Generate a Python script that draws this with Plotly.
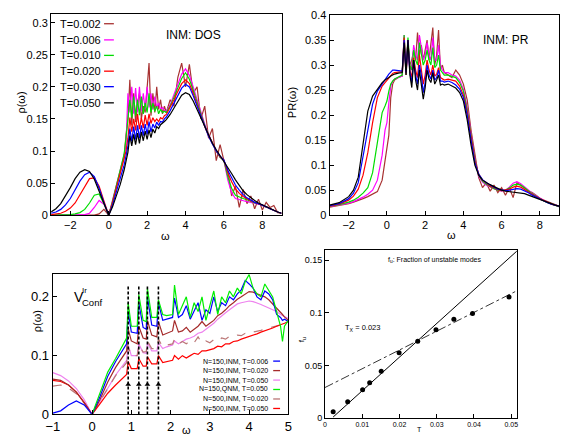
import plotly.graph_objects as go

W, H = 563, 443
FONT = "Liberation Sans, Arial, sans-serif"

# ---------------- Panel 1: INM DOS ----------------
dos_omega = [-3, -2.75, -2.5, -2.25, -2, -1.75, -1.5, -1.25, -1, -0.75, -0.5, -0.25, 0,
             0.2, 0.4, 0.6, 0.8,
             0.9, 1.0, 1.1, 1.2, 1.3, 1.4, 1.5, 1.6, 1.7, 1.8, 1.9, 2.0, 2.1, 2.2, 2.3, 2.4, 2.5, 2.6, 2.7, 2.8, 2.9, 3.0,
             3.2, 3.4, 3.6, 3.8, 4.0, 4.2, 4.4, 4.6, 4.8, 5.0, 5.2, 5.4, 5.6, 5.8, 6.0, 6.2, 6.4, 6.6, 6.8, 7.0,
             7.2, 7.4, 7.6, 7.8, 8.0, 8.2, 8.4, 8.6, 8.8, 9.0]
dos_T002 = [0.0, 0.0, 0.0, 0.0, 0.0, 0.0, 0.0, 0.0, 0.0, 0.0, 0.002, 0.009, 0.0,
            0.020, 0.045, 0.068, 0.090,
            0.125, 0.150, 0.211, 0.140, 0.190, 0.145, 0.175, 0.190, 0.150, 0.170, 0.160, 0.200, 0.237, 0.155, 0.190, 0.160, 0.200, 0.165, 0.180, 0.158, 0.170, 0.160,
            0.180, 0.170, 0.215, 0.237, 0.200, 0.235, 0.190, 0.200, 0.150, 0.170, 0.120, 0.135, 0.085, 0.110, 0.085, 0.070, 0.030, 0.045, 0.012, 0.040,
            0.018, 0.030, 0.010, 0.025, 0.008, 0.020, 0.012, 0.015, 0.004, 0.003]
dos_T006 = [0.0, 0.0, 0.0, 0.0, 0.0, 0.0, 0.0, 0.001, 0.003, 0.012, 0.023, 0.017, 0.0,
            0.022, 0.045, 0.070, 0.093,
            0.110, 0.190, 0.160, 0.200, 0.158, 0.198, 0.160, 0.200, 0.162, 0.190, 0.165, 0.200, 0.168, 0.190, 0.165, 0.185, 0.168, 0.175, 0.165, 0.168, 0.163, 0.162,
            0.172, 0.188, 0.205, 0.220, 0.228, 0.218, 0.200, 0.180, 0.160, 0.142, 0.126, 0.112, 0.100, 0.090, 0.085, 0.055, 0.035, 0.026, 0.024, 0.022,
            0.021, 0.020, 0.019, 0.018, 0.016, 0.013, 0.010, 0.007, 0.005, 0.003]
dos_T010 = [0.0, 0.0, 0.0, 0.001, 0.001, 0.002, 0.004, 0.009, 0.019, 0.031, 0.033, 0.018, 0.0,
            0.022, 0.046, 0.070, 0.095,
            0.120, 0.150, 0.180, 0.152, 0.185, 0.155, 0.180, 0.156, 0.185, 0.158, 0.175, 0.160, 0.190, 0.160, 0.175, 0.162, 0.170, 0.158, 0.165, 0.160, 0.162, 0.160,
            0.170, 0.184, 0.200, 0.213, 0.222, 0.212, 0.195, 0.176, 0.157, 0.140, 0.125, 0.112, 0.100, 0.090, 0.085, 0.060, 0.042, 0.031, 0.028, 0.026,
            0.024, 0.021, 0.019, 0.018, 0.016, 0.013, 0.010, 0.007, 0.005, 0.003]
dos_T020 = [0.001, 0.002, 0.003, 0.006, 0.011, 0.019, 0.032, 0.046, 0.057, 0.058, 0.045, 0.022, 0.0,
            0.020, 0.042, 0.064, 0.085,
            0.100, 0.120, 0.152, 0.130, 0.150, 0.132, 0.158, 0.134, 0.152, 0.136, 0.156, 0.140, 0.158, 0.143, 0.152, 0.146, 0.150, 0.146, 0.152, 0.150, 0.155, 0.157,
            0.168, 0.180, 0.193, 0.205, 0.211, 0.205, 0.190, 0.172, 0.154, 0.138, 0.124, 0.111, 0.100, 0.091, 0.086, 0.066, 0.052, 0.041, 0.034, 0.029,
            0.025, 0.022, 0.020, 0.018, 0.016, 0.013, 0.010, 0.007, 0.005, 0.003]
dos_T030 = [0.003, 0.005, 0.009, 0.016, 0.026, 0.039, 0.053, 0.063, 0.067, 0.060, 0.042, 0.020, 0.0,
            0.016, 0.036, 0.056, 0.078,
            0.092, 0.108, 0.135, 0.115, 0.138, 0.118, 0.140, 0.120, 0.140, 0.124, 0.142, 0.126, 0.146, 0.130, 0.142, 0.136, 0.145, 0.140, 0.146, 0.145, 0.150, 0.153,
            0.163, 0.175, 0.188, 0.198, 0.204, 0.200, 0.186, 0.170, 0.153, 0.137, 0.123, 0.111, 0.100, 0.092, 0.086, 0.070, 0.058, 0.047, 0.039, 0.032,
            0.027, 0.023, 0.020, 0.018, 0.016, 0.013, 0.010, 0.007, 0.005, 0.003]
dos_T050 = [0.005, 0.010, 0.018, 0.030, 0.043, 0.057, 0.067, 0.071, 0.068, 0.056, 0.038, 0.018, 0.0,
            0.013, 0.030, 0.048, 0.070,
            0.085, 0.098, 0.124, 0.108, 0.126, 0.110, 0.128, 0.112, 0.130, 0.116, 0.131, 0.118, 0.133, 0.121, 0.134, 0.128, 0.138, 0.135, 0.141, 0.143, 0.146, 0.149,
            0.157, 0.167, 0.178, 0.187, 0.191, 0.188, 0.178, 0.165, 0.151, 0.137, 0.124, 0.112, 0.102, 0.093, 0.085, 0.075, 0.065, 0.055, 0.046, 0.038,
            0.032, 0.027, 0.023, 0.019, 0.016, 0.013, 0.011, 0.008, 0.005, 0.003]

# ---------------- Panel 2: INM PR ----------------
pr_omega = [-3, -2.5, -2, -1.75, -1.5, -1.25, -1, -0.75, -0.5, -0.25, -0.1, 0, 0.1, 0.2, 0.3, 0.4, 0.6, 0.8,
            0.9, 1.0, 1.1, 1.2, 1.3, 1.4, 1.5, 1.6, 1.7, 1.8, 1.9, 2.0, 2.1, 2.2, 2.3, 2.4, 2.5, 2.6, 2.7, 2.8, 2.9, 3.0,
            3.2, 3.4, 3.6, 3.8, 4.0, 4.2, 4.4, 4.6, 4.8, 5.0, 5.2, 5.4, 5.6, 5.8, 6.0, 6.2, 6.4, 6.6, 6.8, 7.0,
            7.2, 7.4, 7.6, 7.8, 8.0, 8.2, 8.4, 8.6, 8.8, 9.0]
pr_T002 = [0.016, 0.019, 0.023, 0.026, 0.029, 0.033, 0.037, 0.042, 0.047, 0.070, 0.110, 0.135, 0.160, 0.235, 0.262, 0.270, 0.275, 0.278,
           0.340, 0.280, 0.330, 0.300, 0.310, 0.330, 0.310, 0.365, 0.320, 0.340, 0.310, 0.330, 0.350, 0.310, 0.340, 0.375, 0.300, 0.320, 0.370, 0.290, 0.300, 0.285,
           0.280, 0.275, 0.290, 0.280, 0.262, 0.230, 0.170, 0.120, 0.075, 0.055, 0.065, 0.048, 0.060, 0.045, 0.055, 0.040, 0.055, 0.035, 0.065, 0.060,
           0.055, 0.048, 0.045, 0.040, 0.034, 0.030, 0.027, 0.024, 0.020, 0.018]
pr_T006 = [0.017, 0.020, 0.024, 0.027, 0.031, 0.036, 0.042, 0.050, 0.070, 0.120, 0.170, 0.185, 0.225, 0.258, 0.268, 0.272, 0.275, 0.278,
           0.360, 0.285, 0.340, 0.290, 0.300, 0.340, 0.320, 0.310, 0.360, 0.330, 0.310, 0.320, 0.345, 0.320, 0.310, 0.355, 0.310, 0.310, 0.340, 0.300, 0.290, 0.285,
           0.285, 0.280, 0.278, 0.270, 0.252, 0.215, 0.165, 0.112, 0.078, 0.066, 0.060, 0.056, 0.053, 0.050, 0.048, 0.050, 0.056, 0.064, 0.067, 0.063,
           0.056, 0.050, 0.044, 0.039, 0.034, 0.030, 0.026, 0.022, 0.020, 0.017]
pr_T010 = [0.018, 0.021, 0.026, 0.030, 0.036, 0.044, 0.055, 0.085, 0.145, 0.205, 0.218, 0.228, 0.248, 0.262, 0.268, 0.272, 0.276, 0.280,
           0.360, 0.290, 0.355, 0.300, 0.290, 0.330, 0.310, 0.300, 0.345, 0.320, 0.300, 0.310, 0.330, 0.310, 0.300, 0.335, 0.295, 0.300, 0.320, 0.290, 0.285, 0.280,
           0.280, 0.278, 0.275, 0.265, 0.248, 0.210, 0.160, 0.110, 0.080, 0.068, 0.062, 0.057, 0.053, 0.050, 0.049, 0.050, 0.054, 0.060, 0.062, 0.060,
           0.054, 0.048, 0.043, 0.038, 0.033, 0.029, 0.025, 0.022, 0.020, 0.017]
pr_T020 = [0.018, 0.022, 0.030, 0.038, 0.052, 0.080, 0.125, 0.185, 0.235, 0.258, 0.265, 0.270, 0.275, 0.280, 0.283, 0.285, 0.286, 0.287,
           0.355, 0.290, 0.350, 0.290, 0.275, 0.315, 0.290, 0.275, 0.320, 0.295, 0.262, 0.280, 0.310, 0.290, 0.280, 0.300, 0.278, 0.282, 0.295, 0.275, 0.272, 0.270,
           0.272, 0.270, 0.268, 0.258, 0.240, 0.205, 0.155, 0.108, 0.082, 0.070, 0.064, 0.058, 0.055, 0.051, 0.049, 0.050, 0.052, 0.056, 0.058, 0.056,
           0.051, 0.046, 0.041, 0.037, 0.033, 0.029, 0.025, 0.022, 0.020, 0.018]
pr_T030 = [0.019, 0.023, 0.033, 0.044, 0.065, 0.115, 0.170, 0.222, 0.248, 0.262, 0.272, 0.278, 0.282, 0.286, 0.290, 0.290, 0.289, 0.288,
           0.350, 0.285, 0.350, 0.285, 0.265, 0.310, 0.280, 0.262, 0.300, 0.280, 0.245, 0.265, 0.300, 0.280, 0.272, 0.290, 0.270, 0.275, 0.290, 0.268, 0.268, 0.266,
           0.268, 0.265, 0.260, 0.252, 0.235, 0.200, 0.150, 0.105, 0.082, 0.071, 0.065, 0.060, 0.056, 0.052, 0.050, 0.049, 0.050, 0.052, 0.053, 0.052,
           0.049, 0.045, 0.040, 0.036, 0.032, 0.028, 0.025, 0.022, 0.020, 0.018]
pr_T050 = [0.020, 0.025, 0.037, 0.050, 0.076, 0.140, 0.208, 0.238, 0.252, 0.265, 0.270, 0.272, 0.275, 0.278, 0.280, 0.282, 0.284, 0.285,
           0.345, 0.280, 0.350, 0.280, 0.255, 0.310, 0.270, 0.250, 0.290, 0.265, 0.232, 0.255, 0.290, 0.272, 0.265, 0.285, 0.262, 0.270, 0.280, 0.260, 0.262, 0.260,
           0.262, 0.258, 0.254, 0.245, 0.228, 0.190, 0.140, 0.100, 0.080, 0.070, 0.065, 0.061, 0.057, 0.053, 0.050, 0.048, 0.047, 0.046, 0.046, 0.045,
           0.043, 0.040, 0.037, 0.034, 0.031, 0.028, 0.025, 0.022, 0.020, 0.018]

dos_labels = ["T=0.002", "T=0.006", "T=0.010", "T=0.020", "T=0.030", "T=0.050"]
dos_colors = ["#a83232", "#ff00ff", "#00dd00", "#ff0000", "#0000ff", "#000000"]

# ---------------- Panel 3: V_Conf^Ir DOS ----------------
vc_omega = [-1, -0.8, -0.6, -0.4, -0.2, 0,
            0.2, 0.4, 0.6, 0.88, 0.92, 1.0, 1.15, 1.19, 1.3, 1.38, 1.41, 1.52, 1.65, 1.69, 1.8, 1.9, 2.05, 2.1,
            2.2, 2.3, 2.4, 2.5, 2.6, 2.7, 2.8, 2.9, 3.0, 3.1, 3.2, 3.3, 3.4, 3.5, 3.6, 3.7, 3.8, 3.9, 4.0, 4.1,
            4.2, 4.3, 4.4, 4.5, 4.6, 4.7, 4.8, 4.85, 4.9, 5.0]
vc_150_inm_006 = [0.002, 0.006, 0.016, 0.023, 0.016, 0.0,
                  0.030, 0.065, 0.090, 0.120, 0.175, 0.140, 0.138, 0.190, 0.148, 0.145, 0.200, 0.152, 0.150, 0.190, 0.160, 0.162, 0.165, 0.198,
                  0.165, 0.170, 0.185, 0.162, 0.175, 0.190, 0.160, 0.178, 0.172, 0.200, 0.175, 0.190, 0.185, 0.200, 0.195, 0.205, 0.212, 0.228, 0.222, 0.215,
                  0.200, 0.195, 0.210, 0.205, 0.195, 0.170, 0.165, 0.160, 0.162, 0.158]
vc_150_inm_020 = [0.060, 0.058, 0.050, 0.038, 0.020, 0.0,
                  0.025, 0.055, 0.080, 0.108, 0.145, 0.125, 0.120, 0.150, 0.130, 0.128, 0.160, 0.135, 0.132, 0.158, 0.135, 0.138, 0.142, 0.160,
                  0.140, 0.142, 0.148, 0.140, 0.145, 0.150, 0.158, 0.150, 0.155, 0.160, 0.168, 0.172, 0.178, 0.185, 0.190, 0.196, 0.200, 0.205, 0.209, 0.208,
                  0.205, 0.202, 0.200, 0.195, 0.188, 0.182, 0.175, 0.170, 0.166, 0.160]
vc_150_inm_050 = [0.071, 0.066, 0.057, 0.044, 0.025, 0.0,
                  0.022, 0.045, 0.067, 0.092, 0.118, 0.100, 0.100, 0.120, 0.105, 0.104, 0.122, 0.108, 0.108, 0.122, 0.112, 0.115, 0.118, 0.125,
                  0.120, 0.124, 0.128, 0.130, 0.133, 0.138, 0.140, 0.145, 0.150, 0.155, 0.162, 0.168, 0.173, 0.178, 0.183, 0.188, 0.190, 0.192, 0.193, 0.192,
                  0.190, 0.187, 0.184, 0.181, 0.178, 0.175, 0.170, 0.168, 0.166, 0.163]
vc_150_qnm_050 = [None, None, None, None, None, 0.0,
                  0.035, 0.072, 0.095, 0.130, 0.190, 0.150, 0.150, 0.204, 0.160, 0.158, 0.214, 0.165, 0.165, 0.195, 0.170, 0.168, 0.170, 0.220,
                  0.170, 0.185, 0.200, 0.165, 0.190, 0.175, 0.200, 0.160, 0.185, 0.210, 0.170, 0.200, 0.190, 0.210, 0.200, 0.215, 0.205, 0.226, 0.238, 0.215,
                  0.205, 0.200, 0.222, 0.212, 0.200, 0.175, 0.150, 0.124, 0.150, 0.160]
vc_500_inm_020 = [0.048, 0.050, 0.045, 0.035, 0.019, 0.0,
                  0.022, 0.045, 0.066, 0.088, 0.115, 0.100, 0.100, 0.118, 0.106, 0.107, 0.125, 0.112, 0.112, 0.128, 0.115, 0.118, 0.120, 0.128,
                  0.120, 0.124, 0.120, 0.126, 0.122, 0.132, 0.121, 0.125, 0.122, 0.127, 0.124, 0.130, 0.128, 0.133, 0.132, 0.135, 0.134, 0.138, 0.137, 0.140,
                  0.141, 0.143, 0.145, 0.147, 0.148, 0.150, 0.152, 0.153, 0.154, 0.156]
vc_500_inm_050 = [0.058, 0.056, 0.050, 0.038, 0.020, 0.0,
                  0.018, 0.036, 0.050, 0.068, 0.090, 0.078, 0.078, 0.095, 0.082, 0.082, 0.098, 0.086, 0.086, 0.100, 0.088, 0.090, 0.092, 0.100,
                  0.094, 0.100, 0.096, 0.100, 0.104, 0.102, 0.108, 0.108, 0.110, 0.112, 0.116, 0.115, 0.120, 0.120, 0.124, 0.125, 0.128, 0.130, 0.132, 0.134,
                  0.137, 0.140, 0.142, 0.144, 0.147, 0.150, 0.152, 0.153, 0.155, 0.158]
vc_labels = ["N=150,INM, T=0.006", "N=150,INM, T=0.020", "N=150,INM, T=0.050",
             "N=150,QNM, T=0.050", "N=500,INM, T=0.020", "N=500,INM, T=0.050"]
vc_colors = ["#0000ff", "#a52a2a", "#ee82ee", "#00ee00", "#bb7777", "#ff0000"]
vc_dash = ["solid", "solid", "solid", "solid", "dash", "solid"]
vline_omega = [0.92, 1.19, 1.41, 1.69]
vline_top = 0.218
arrow_rho = 0.051

# ---------------- Panel 4: fraction of unstable modes ----------------
fu_T = [0.0022, 0.0061, 0.0101, 0.012, 0.0151, 0.0199, 0.0249, 0.0298, 0.0346, 0.0396, 0.0494]
fu_val = [0.006, 0.0155, 0.027, 0.0335, 0.0445, 0.062, 0.073, 0.084, 0.094, 0.0995, 0.115]
fit_low_T = [0.0022, 0.0515]
fit_low_f = [0.001, 0.1587]
fit_high_T = [0.0, 0.0515]
fit_high_f = [0.029, 0.121]

for arr in [dos_T002, dos_T006, dos_T010, dos_T020, dos_T030, dos_T050]:
    assert len(arr) == len(dos_omega), len(arr)
for arr in [pr_T002, pr_T006, pr_T010, pr_T020, pr_T030, pr_T050]:
    assert len(arr) == len(pr_omega), len(arr)
for arr in [vc_150_inm_006, vc_150_inm_020, vc_150_inm_050, vc_150_qnm_050, vc_500_inm_020, vc_500_inm_050]:
    assert len(arr) == len(vc_omega), len(arr)


def px(x):
    return x / W


def py(y):
    return 1 - y / H


fig = go.Figure()

dos_series = [dos_T002, dos_T006, dos_T010, dos_T020, dos_T030, dos_T050]
pr_series = [pr_T002, pr_T006, pr_T010, pr_T020, pr_T030, pr_T050]
for ys, c in zip(dos_series, dos_colors):
    fig.add_trace(go.Scatter(x=dos_omega, y=ys, mode="lines", line=dict(color=c, width=1.2),
                             xaxis="x", yaxis="y", hoverinfo="skip", showlegend=False))
for ys, c in zip(pr_series, dos_colors):
    fig.add_trace(go.Scatter(x=pr_omega, y=ys, mode="lines", line=dict(color=c, width=1.2),
                             xaxis="x2", yaxis="y2", hoverinfo="skip", showlegend=False))

vc_series = [vc_150_inm_006, vc_150_inm_020, vc_150_inm_050, vc_150_qnm_050, vc_500_inm_020, vc_500_inm_050]
order = [2, 4, 5, 1, 0, 3]
for i in order:
    fig.add_trace(go.Scatter(x=vc_omega, y=vc_series[i], mode="lines",
                             line=dict(color=vc_colors[i], width=1.2, dash=vc_dash[i]),
                             xaxis="x3", yaxis="y3", hoverinfo="skip", showlegend=False, connectgaps=False))
for w in vline_omega:
    fig.add_trace(go.Scatter(x=[w, w], y=[0, vline_top], mode="lines",
                             line=dict(color="black", width=1.6, dash="3px,2px"),
                             xaxis="x3", yaxis="y3", hoverinfo="skip", showlegend=False))
fig.add_trace(go.Scatter(x=vline_omega, y=[arrow_rho] * len(vline_omega), mode="markers",
                         marker=dict(symbol="triangle-up", size=5, color="black"),
                         xaxis="x3", yaxis="y3", hoverinfo="skip", showlegend=False))

fig.add_trace(go.Scatter(x=fit_low_T, y=fit_low_f, mode="lines", line=dict(color="black", width=1),
                         xaxis="x4", yaxis="y4", hoverinfo="skip", showlegend=False))
fig.add_trace(go.Scatter(x=fit_high_T, y=fit_high_f, mode="lines",
                         line=dict(color="black", width=0.8, dash="dashdot"),
                         xaxis="x4", yaxis="y4", hoverinfo="skip", showlegend=False))
fig.add_trace(go.Scatter(x=fu_T, y=fu_val, mode="markers", marker=dict(color="black", size=5),
                         xaxis="x4", yaxis="y4", hoverinfo="skip", showlegend=False))


def axis(domain, rng, tickvals, fs, anchor, lw=1):
    return dict(domain=domain, range=rng, tickvals=tickvals, showline=True, mirror=True,
                linecolor="black", linewidth=lw, ticks="inside", ticklen=4, tickcolor="black",
                showgrid=False, zeroline=False, anchor=anchor,
                tickfont=dict(size=fs, color="black", family=FONT))


fig.update_layout(
    width=W, height=H, margin=dict(l=0, r=0, t=0, b=0),
    paper_bgcolor="white", plot_bgcolor="white",
    font=dict(family=FONT, color="black"),
    xaxis=axis([px(45), px(280)], [-3, 9], [-2, 0, 2, 4, 6, 8], 11, "y"),
    yaxis=axis([py(216), py(8)], [0, 0.314], [0, 0.05, 0.1, 0.15, 0.2, 0.25, 0.3], 11, "x"),
    xaxis2=axis([px(329), 1.0], [-3, 9], [-2, 0, 2, 4, 6, 8], 11, "y2"),
    yaxis2=axis([py(216), py(9.3)], [0, 0.4], [0, 0.05, 0.1, 0.15, 0.2, 0.25, 0.3, 0.35, 0.4], 11, "x2"),
    xaxis3=axis([px(46.7), px(287)], [-1, 5], [-1, 0, 1, 2, 3, 4, 5], 13, "y3", 1.3),
    yaxis3=axis([py(421.7), py(276.7)], [0, 0.239], [0, 0.1, 0.2], 13, "x3", 1.3),
    xaxis4=axis([px(324.3), px(520)], [0, 0.0515], [0, 0.01, 0.02, 0.03, 0.04, 0.05], 7, "y4"),
    yaxis4=axis([py(425.5), py(251.7)], [0, 0.16], [0, 0.05, 0.1, 0.15], 9, "x4"),
)


def txt(x, y, s, size, xanchor="center", angle=0):
    return dict(x=px(x), y=py(y), xref="paper", yref="paper", text=s, showarrow=False,
                font=dict(size=size, color="black", family=FONT), xanchor=xanchor,
                yanchor="middle", textangle=angle, borderpad=0)


ann = []
shapes = []
# panel 1 legend
leg1_y = [18.3, 35, 51, 67.3, 83.3, 100]
for lab, c, yy in zip(dos_labels, dos_colors, leg1_y):
    ann.append(txt(53, yy, lab, 11, "left"))
    shapes.append(dict(type="line", xref="paper", yref="paper", x0=px(99), x1=px(109),
                       y0=py(yy), y1=py(yy), line=dict(color=c, width=1.3)))
ann.append(txt(190, 30, "INM: DOS", 12))
ann.append(txt(14, 100, "ρ(ω)", 11, angle=-90))
ann.append(txt(162, 237, "ω", 11))
# panel 2
ann.append(txt(509, 35, "INM: PR", 12))
ann.append(txt(291, 100, "PR(ω)", 11, angle=-90))
ann.append(txt(453, 236, "ω", 11))
# panel 3
ann.append(txt(67, 301, "V", 14, "left"))
ann.append(txt(75.5, 293.5, "Ir", 8, "left"))
ann.append(txt(75, 306.5, "Conf", 9.5, "left"))
ann.append(txt(30, 325, "ρ(ω)", 11, angle=-90))
ann.append(txt(183, 437.5, "ω", 11))
leg3_y = [366.7, 376.5, 386.3, 396, 405.8, 415.6]
for lab, c, d, yy in zip(vc_labels, vc_colors, vc_dash, leg3_y):
    ann.append(txt(267, yy, lab, 7, "right"))
    shapes.append(dict(type="line", xref="paper", yref="paper", x0=px(271.5), x1=px(278.5),
                       y0=py(yy), y1=py(yy), line=dict(color=c, width=1.3, dash=d)))
# panel 4
ann.append(txt(437, 262, "f<sub>u</sub>: Fraction of unstable modes", 7))
ann.append(txt(344, 333, "T<sub>X</sub> = 0.023", 7.5, "left"))
ann.append(txt(301, 345, "f<sub>u</sub>", 8, angle=-90))
ann.append(txt(421, 437, "T", 7))

fig.update_layout(annotations=ann, shapes=shapes)
fig.write_html("out.html", config={"displayModeBar": False},
               post_script="document.body.style.margin='0px';document.body.style.padding='0px';"
                           "document.body.style.overflow='hidden';")
